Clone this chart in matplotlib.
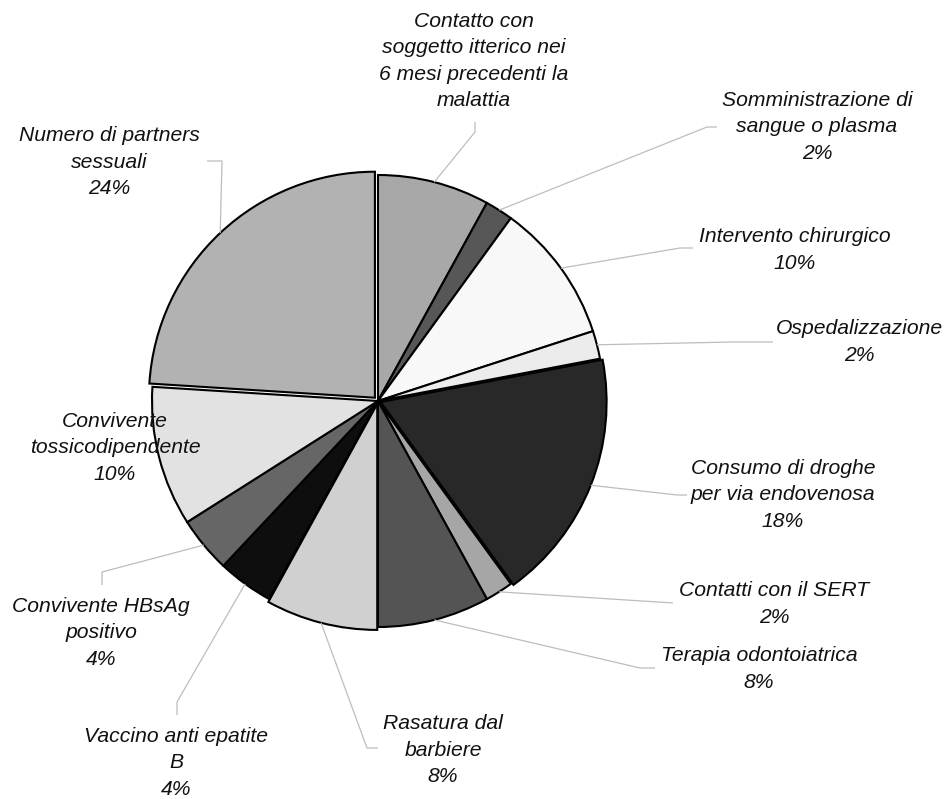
import matplotlib
matplotlib.use("Agg")
import matplotlib.pyplot as plt
import numpy as np

# Fattori di rischio riferiti (percentuali), in senso orario dall'alto
categories = [
    "Contatto con\nsoggetto itterico nei\n6 mesi precedenti la\nmalattia",
    "Somministrazione di\nsangue o plasma",
    "Intervento chirurgico",
    "Ospedalizzazione",
    "Consumo di droghe\nper via endovenosa",
    "Contatti con il SERT",
    "Terapia odontoiatrica",
    "Rasatura dal\nbarbiere",
    "Vaccino anti epatite\nB",
    "Convivente HBsAg\npositivo",
    "Convivente\ntossicodipendente",
    "Numero di partners\nsessuali",
]
percent = [8, 2, 10, 2, 18, 2, 8, 8, 4, 4, 10, 24]
show_pct = [False, True, True, True, True, True, True, True, True, True, True, True]

grays = ["#a8a8a8", "#575757", "#f8f8f8", "#ececec", "#282828", "#a6a6a6",
         "#545454", "#d0d0d0", "#0e0e0e", "#666666", "#e2e2e2", "#b2b2b2"]
# offsets of the detached slices, in pixels
explode = [0, 0, 0, 0, 2.8, 0, 0, 3.0, 0, 0, 0, 4.5]

W, H = 945, 799


def px(x, y):
    """pixel position (origin top-left) -> data coordinates"""
    return x, H - y


fig = plt.figure(figsize=(W / 100, H / 100), dpi=100)
ax = fig.add_axes([0, 0, 1, 1])

cx, cy = px(378, 401)
R = 226
wedges, _ = ax.pie(percent, colors=grays, explode=explode, startangle=90,
                   counterclock=False, center=(cx, cy), radius=R,
                   wedgeprops=dict(edgecolor="black", linewidth=1.5,
                                   joinstyle="miter"))
ax.set_xlim(0, W)
ax.set_ylim(0, H)
ax.set_aspect("equal")
ax.axis("off")

# label block centres and leader waypoints (pixels)
label_pos = [
    (474, 61), (817, 127), (795, 250), (859, 342), (783, 495), (774, 604),
    (759, 669), (443, 750), (176, 763), (101, 633), (115, 448), (109, 162),
]
leader_pts = [
    [(475, 132), (475, 122)],
    [(707, 127), (717, 127)],
    [(680, 248), (693, 248)],
    [(733, 342), (773, 342)],
    [(677, 495), (687, 495)],
    [(673, 603)],
    [(640, 668), (655, 668)],
    [(367, 748), (378, 748)],
    [(177, 702), (177, 715)],
    [(102, 572), (102, 585)],
    None,
    [(222, 161), (207, 161)],
]

for w, name, p, show, lp, pts in zip(wedges, categories, percent, show_pct,
                                     label_pos, leader_pts):
    text = name + (f"\n{p}%" if show else "")
    ax.text(*px(*lp), text, ha="center", va="center", multialignment="center",
            fontsize=15.2, style="italic", family="Liberation Sans",
            color="#111111", linespacing=1.5, zorder=5)
    if pts is None:
        continue
    mid = np.deg2rad((w.theta1 + w.theta2) / 2)
    ax0 = w.center[0] + w.r * np.cos(mid)
    ay0 = w.center[1] + w.r * np.sin(mid)
    xs = [ax0] + [px(*q)[0] for q in pts]
    ys = [ay0] + [px(*q)[1] for q in pts]
    ax.plot(xs, ys, color="#bdbdbd", lw=0.9, zorder=1, solid_capstyle="butt")

fig.savefig("out.png", dpi=100, facecolor="white")
